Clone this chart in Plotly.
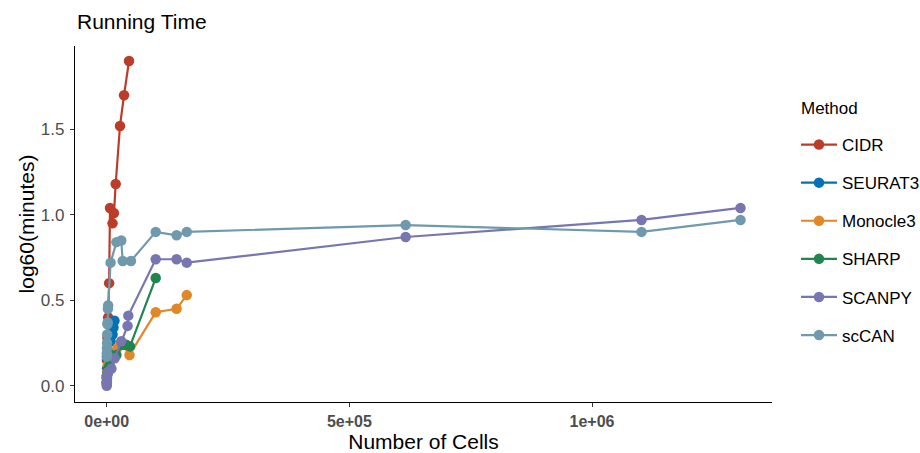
import plotly.graph_objects as go

methods = ["CIDR", "SEURAT3", "Monocle3", "SHARP", "SCANPY", "scCAN"]
colors = ["#BC3C29", "#0072B5", "#E18727", "#20854E", "#7876B1", "#6F99AD"]

cidr_x = [100, 500, 1500, 3000, 5000, 6800, 12000, 15000, 18500, 27400, 35700, 46000]
cidr_y = [0.05, 0.15, 0.28, 0.40, 0.60, 1.04, 0.95, 1.01, 1.18, 1.52, 1.70, 1.90]

seurat_x = [90, 300, 600, 1500, 3000, 8000, 12000, 14000, 16000]
seurat_y = [0.02, 0.06, 0.10, 0.15, 0.20, 0.26, 0.30, 0.34, 0.38]

monocle_x = [90, 300, 700, 2000, 5000, 22000, 30000, 47000, 101000, 144000, 165000]
monocle_y = [0.02, 0.05, 0.08, 0.12, 0.16, 0.22, 0.25, 0.18, 0.43, 0.45, 0.53]

sharp_x = [100, 500, 1500, 3000, 6000, 20000, 33000, 40000, 48000, 101000]
sharp_y = [0.01, 0.04, 0.07, 0.10, 0.12, 0.18, 0.24, 0.24, 0.23, 0.63]

scanpy_x = [50, 200, 500, 1000, 3000, 9700, 16500, 30000, 43000, 44500, 101000, 144000, 165000, 616000, 1102000, 1306000]
scanpy_y = [0.00, 0.02, 0.04, 0.06, 0.08, 0.10, 0.16, 0.26, 0.35, 0.41, 0.74, 0.74, 0.72, 0.87, 0.97, 1.04]

sccan_x = [100, 300, 500, 800, 1000, 1500, 2000, 2500, 3000, 8000, 20000, 30000, 33000, 50000, 101000, 144000, 165000, 616000, 1102000, 1306000]
sccan_y = [0.17, 0.19, 0.22, 0.25, 0.30, 0.36, 0.37, 0.45, 0.47, 0.72, 0.84, 0.85, 0.73, 0.73, 0.90, 0.88, 0.90, 0.94, 0.90, 0.97]

xs = [cidr_x, seurat_x, monocle_x, sharp_x, scanpy_x, sccan_x]
ys = [cidr_y, seurat_y, monocle_y, sharp_y, scanpy_y, sccan_y]

x_ticks = [0, 500000, 1000000]
x_tick_labels = ["0e+00", "5e+05", "1e+06"]
y_ticks = [0, 0.5, 1.0, 1.5]
y_tick_labels = ["0.0", "0.5", "1.0", "1.5"]

FONT = "Liberation Sans, Arial, sans-serif"

fig = go.Figure()
for name, col, x, y in zip(methods, colors, xs, ys):
    fig.add_trace(go.Scatter(
        x=x, y=y, name=name, mode="lines+markers",
        line=dict(color=col, width=2.2),
        marker=dict(color=col, size=10.5),
        legendgroup=name,
    ))

fig.add_annotation(
    text="Method", xref="paper", yref="paper",
    x=(799 - 75) / 697, y=(402 - 108) / 356, xanchor="left", yanchor="middle",
    showarrow=False, font=dict(size=17, color="black"),
)

fig.update_layout(
    width=920, height=453,
    margin=dict(l=75, r=148, t=46, b=51, autoexpand=False),
    paper_bgcolor="white", plot_bgcolor="white",
    font=dict(family=FONT, color="black"),
    title=dict(text="Running Time", x=77/920, xanchor="left", y=1-22/453, yanchor="middle",
               font=dict(size=21, color="black"), automargin=False),
    showlegend=True,
    legend=dict(
        font=dict(size=17, color="black"),
        x=(796 - 75) / 697, xanchor="left", y=(402 - 127) / 356, yanchor="top",
        tracegroupgap=13, itemwidth=36,
        bgcolor="rgba(0,0,0,0)",
    ),
    xaxis=dict(
        range=[-65320, 1370900],
        tickvals=x_ticks, ticktext=x_tick_labels,
        showgrid=False, zeroline=False, automargin=False,
        showline=True, linecolor="black", linewidth=1.3,
        ticks="outside", ticklen=4, tickcolor="#333333", tickwidth=1,
        ticklabelstandoff=1,
        tickfont=dict(size=16, color="#4D4D4D", weight="bold"),
        title=dict(text="Number of Cells", font=dict(size=21, color="black"), standoff=2),
    ),
    yaxis=dict(
        range=[-0.0954, 1.9877],
        tickvals=y_ticks, ticktext=y_tick_labels,
        showgrid=False, zeroline=False, automargin=False,
        showline=True, linecolor="black", linewidth=1.3,
        ticks="outside", ticklen=4, tickcolor="#333333", tickwidth=1,
        ticklabelstandoff=2,
        tickfont=dict(size=17, color="#4D4D4D"),
        title=dict(text="log60(minutes)", font=dict(size=21, color="black"), standoff=0),
    ),
)

fig.write_html("out.html",
               config={"displayModeBar": False},
               post_script="document.body.style.margin='0px';document.body.style.overflow='hidden';")
